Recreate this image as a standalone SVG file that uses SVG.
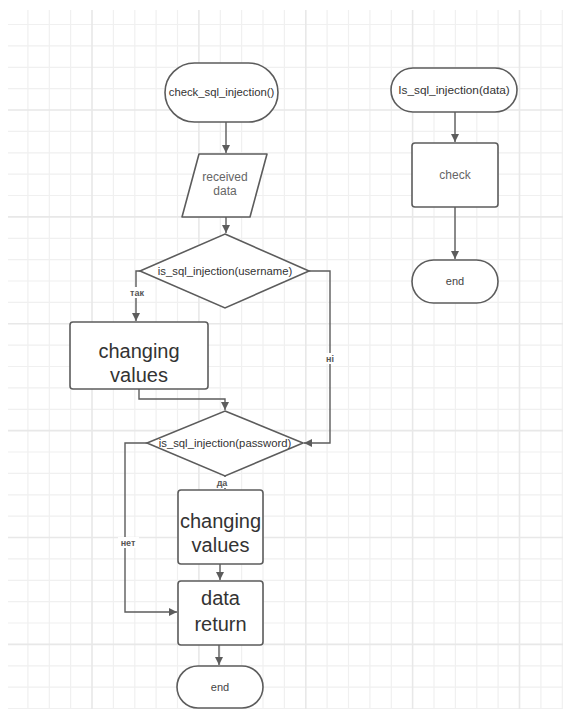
<svg xmlns="http://www.w3.org/2000/svg" width="563" height="709" viewBox="0 0 563 709">
<style>
.gm{stroke:#f0f0f0;stroke-width:1.2;fill:none}
.gM{stroke:#e8e8e8;stroke-width:1.6;fill:none}
.sh{fill:#fff;stroke:#5c5c5c;stroke-width:1.6}
.cn{fill:none;stroke:#5c5c5c;stroke-width:1.4}
.t{font-family:"Liberation Sans",Arial,sans-serif;text-anchor:middle;fill:#333}
.s{font-size:11.3px}
.b{font-size:20px}
.g{font-size:12px;fill:#666}
.lb{font-family:"Liberation Sans",Arial,sans-serif;text-anchor:middle;font-size:9px;font-weight:bold;fill:#555}
.lbg{fill:#fff}
</style>
<defs>
<marker id="ar" viewBox="0 0 10 10" refX="10" refY="5" markerWidth="8" markerHeight="8" markerUnits="userSpaceOnUse" orient="auto">
<path d="M0,0 L10,5 L0,10 z" fill="#5c5c5c"/>
</marker>
</defs>
<rect width="563" height="709" fill="#fff"/>
<g id="grid">
<path class="gm" d="M27.9 10V709M49.3 10V709M70.6 10V709M113.4 10V709M134.8 10V709M156.1 10V709M177.5 10V709M220.3 10V709M241.6 10V709M263 10V709M284.4 10V709M327.1 10V709M348.5 10V709M369.9 10V709M391.3 10V709M434 10V709M455.4 10V709M476.8 10V709M498.1 10V709M540.9 10V709M562.3 10V709"/>
<path class="gm" d="M8 24.5H563M8 45.9H563M8 67.3H563M8 88.6H563M8 131.4H563M8 152.8H563M8 174.1H563M8 195.5H563M8 238.3H563M8 259.6H563M8 281H563M8 302.4H563M8 345.1H563M8 366.5H563M8 387.9H563M8 409.3H563M8 452H563M8 473.4H563M8 494.8H563M8 516.1H563M8 558.9H563M8 580.3H563M8 601.6H563M8 623H563M8 665.8H563M8 687.1H563M8 708.5H563"/>
<path class="gM" d="M92 10V709M198.9 10V709M305.8 10V709M412.6 10V709M519.5 10V709M8 110H563M8 216.9H563M8 323.8H563M8 430.6H563M8 537.5H563M8 644.4H563"/>
</g>
<g id="connectors">
<path class="cn" d="M226 122V153" marker-end="url(#ar)"/>
<path class="cn" d="M226 217V233" marker-end="url(#ar)"/>
<path class="cn" d="M140 271H136V321" marker-end="url(#ar)"/>
<path class="cn" d="M309 271H330V443H304" marker-end="url(#ar)"/>
<path class="cn" d="M139 389V399H225V410" marker-end="url(#ar)"/>
<path class="cn" d="M225 476V489" marker-end="url(#ar)"/>
<path class="cn" d="M147 443H125V612H177" marker-end="url(#ar)"/>
<path class="cn" d="M220 564V580" marker-end="url(#ar)"/>
<path class="cn" d="M219 645V665" marker-end="url(#ar)"/>
<path class="cn" d="M455 112V142" marker-end="url(#ar)"/>
<path class="cn" d="M455 207V259" marker-end="url(#ar)"/>
<rect class="lbg" x="127" y="287" width="20" height="11"/>
<text class="lb" x="137" y="296">так</text>
<rect class="lbg" x="323" y="353" width="14" height="11"/>
<text class="lb" x="330" y="362">ні</text>
<rect class="lbg" x="213" y="477" width="18" height="11"/>
<text class="lb" x="222" y="486">да</text>
<rect class="lbg" x="118" y="537" width="21" height="11"/>
<text class="lb" x="128" y="546">нет</text>
</g>
<g id="start1">
<rect class="sh" x="165" y="63" width="113" height="59" rx="29.5"/>
<text class="t s" x="221.5" y="96">check_sql_injection()</text>
</g>
<g id="input">
<polygon class="sh" points="199,154 267,154 250,217 182,217" stroke-linejoin="round"/>
<text class="t g" x="225" y="181">received</text>
<text class="t g" x="225" y="195">data</text>
</g>
<g id="decision1">
<polygon class="sh" points="225,234 309,271 225,308 140,271"/>
<text class="t s" x="225" y="275">is_sql_injection(username)</text>
</g>
<g id="process1">
<rect class="sh" x="70" y="322" width="138" height="67" rx="3"/>
<text class="t b" x="139" y="358">changing</text>
<text class="t b" x="139" y="382">values</text>
</g>
<g id="decision2">
<polygon class="sh" points="225,411 303,443 225,476 147,443"/>
<text class="t s" x="225" y="447">is_sql_injection(password)</text>
</g>
<g id="process2">
<rect class="sh" x="178" y="490" width="85" height="74" rx="3"/>
<text class="t b" x="220.5" y="528">changing</text>
<text class="t b" x="220.5" y="552">values</text>
</g>
<g id="process3">
<rect class="sh" x="178" y="581" width="85" height="64" rx="3"/>
<text class="t b" x="220.5" y="605">data</text>
<text class="t b" x="220.5" y="631">return</text>
</g>
<g id="end1">
<rect class="sh" x="177" y="666" width="86" height="42" rx="21"/>
<text class="t" x="220" y="691" style="font-size:11px;fill:#444">end</text>
</g>
<g id="start2">
<rect class="sh" x="391" y="68" width="126" height="44" rx="22"/>
<text class="t" x="454" y="94" style="font-size:11.8px">Is_sql_injection(data)</text>
</g>
<g id="check">
<rect class="sh" x="412" y="143" width="86" height="64" rx="3"/>
<text class="t g" x="455" y="179">check</text>
</g>
<g id="end2">
<rect class="sh" x="412" y="260" width="86" height="43" rx="21.5"/>
<text class="t" x="455" y="285" style="font-size:11px;fill:#444">end</text>
</g>
</svg>
